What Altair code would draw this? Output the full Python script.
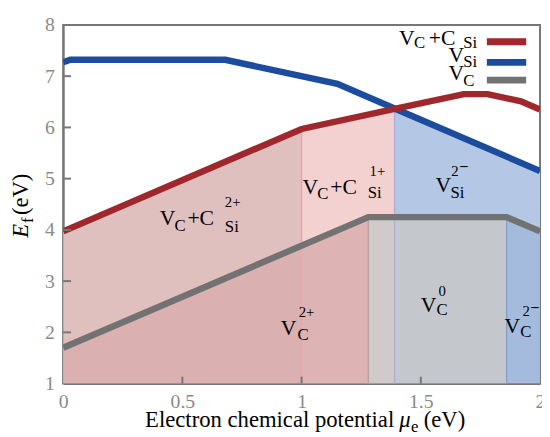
import altair as alt
import pandas as pd

# ---------------- data ----------------
# formation-energy lines (piecewise linear), x = electron chemical potential (eV)
red_x = [0.0, 1.0, 1.39, 1.68, 1.78, 1.92, 2.0]          # V_C + C_Si
red_y = [3.97, 5.97, 6.36, 6.65, 6.65, 6.51, 6.35]
blue_x = [0.0, 0.03, 0.68, 1.15, 1.39, 2.0]              # V_Si
blue_y = [7.27, 7.32, 7.32, 6.85, 6.37, 5.15]
gray_x = [0.0, 1.28, 1.86, 2.0]                          # V_C
gray_y = [1.70, 4.25, 4.25, 3.97]

# region boundaries (charge-state transition levels)
reg_name = ["A", "B", "C", "D", "E", "F"]
reg_line = ["red", "red", "blue", "gray", "gray", "gray"]
reg_lo = [0.0, 1.0, 1.39, 0.0, 1.28, 1.86]
reg_hi = [1.0, 1.39, 2.0, 1.28, 1.86, 2.0]

x_ticks = [0, 0.5, 1, 1.5, 2]
y_ticks = [1, 2, 3, 4, 5, 6, 7, 8]

# ---------------- styles ----------------
FONT = "Liberation Serif"
line_color = {"red": "#a0282c", "blue": "#1b4c9e", "gray": "#727272"}
reg_fill = {"A": "#e0bfbf", "B": "#f3d1d1", "C": "#b4c7e4",
            "D": "#d9adad", "E": "#c8c8c8", "F": "#7896c8"}
reg_op = {"A": 1.0, "B": 1.0, "C": 1.0, "D": 0.84, "E": 0.81, "F": 0.25}

lines = {"red": (red_x, red_y), "blue": (blue_x, blue_y), "gray": (gray_x, gray_y)}

line_rows = []
for k in ["blue", "red", "gray"]:
    xs_, ys_ = lines[k]
    for i, (a, b) in enumerate(zip(xs_, ys_)):
        line_rows.append({"s": k, "x": a, "y": b, "o": i, "c": line_color[k]})
line_df = pd.DataFrame(line_rows)

area_rows = []
for n, ln, lo, hi in zip(reg_name, reg_line, reg_lo, reg_hi):
    xs_, ys_ = lines[ln]
    for a, b in zip(xs_, ys_):
        if lo - 1e-9 <= a <= hi + 1e-9:
            area_rows.append({"r": n, "x": a, "y": b, "y0": 1.0, "c": reg_fill[n], "op": reg_op[n]})
area_df = pd.DataFrame(area_rows)

W, H = 484, 364
xs = alt.Scale(domain=[0, 2], nice=False, zero=False)
ys = alt.Scale(domain=[1, 8], nice=False, zero=False)

X = alt.X("x:Q", scale=xs, axis=alt.Axis(values=x_ticks, format="~g", title=None,
                                         labelFont=FONT, labelFlush=False))
Y = alt.Y("y:Q", scale=ys, axis=alt.Axis(values=y_ticks, format="d", title=None,
                                         labelFont=FONT, labelFlush=False), stack=None)


def areas(names):
    d = area_df[area_df["r"].isin(names)]
    return alt.Chart(d).mark_area(clip=True).encode(
        x=X, y=Y, y2="y0:Q", detail="r:N",
        color=alt.Color("c:N", scale=None),
        opacity=alt.Opacity("op:Q", scale=None),
    )


base_areas = areas(["A", "B", "C"])
over_areas = areas(["D", "E", "F"])

# faint region boundaries
bnd_df = pd.DataFrame({
    "x": [1.0, 1.39, 1.28, 1.86],
    "y": [5.97, 6.37, 4.25, 4.25],
    "y0": [1.0, 1.0, 1.0, 1.0],
    "c": ["#e8a7aa", "#a9b3d8", "#b8a2a2", "#8aa0cc"],
})
bounds = alt.Chart(bnd_df).mark_rule(strokeWidth=1.5).encode(
    x=X, y=Y, y2="y0:Q", color=alt.Color("c:N", scale=None)
)

line_layer = alt.Chart(line_df).mark_line(strokeWidth=6.5, clip=True).encode(
    x=X, y=Y, order="o:Q", detail="s:N", color=alt.Color("c:N", scale=None)
)

# ---------------- labels (composed super/subscripts) ----------------
lab = [
    # V_C + C_Si^2+
    (0.405, 4.10, "V", "b"), (0.467, 3.98, "C", "s"), (0.521, 4.10, "+C", "b"),
    (0.678, 3.96, "Si", "s"), (0.678, 4.44, "2+", "p"),
    # V_C + C_Si^1+
    (1.004, 4.71, "V", "b"), (1.066, 4.61, "C", "s"), (1.12, 4.71, "+C", "b"),
    (1.277, 4.63, "Si", "s"), (1.285, 5.06, "1+", "p"),
    # V_Si^2-
    (1.562, 4.73, "V", "b"), (1.624, 4.63, "Si", "s"), (1.628, 5.06, "2", "p"),
    (1.665, 5.16, "\u2013", "m"),
    # V_C^2+
    (0.913, 1.94, "V", "b"), (0.983, 1.85, "C", "s"), (0.988, 2.29, "2+", "p"),
    # V_C^0
    (1.50, 2.40, "V", "b"), (1.566, 2.33, "C", "s"), (1.574, 2.71, "0", "p"),
    # V_C^2-
    (1.851, 1.98, "V", "b"), (1.917, 1.90, "C", "s"), (1.926, 2.31, "2", "p"),
    (1.963, 2.41, "\u2013", "m"),
    # legend texts
    (1.409, 7.615, "V", "b"), (1.471, 7.55, "C", "s"), (1.533, 7.615, "+C", "b"),
    (1.678, 7.55, "Si", "s"),
    (1.616, 7.27, "V", "b"), (1.678, 7.17, "Si", "s"),
    (1.616, 6.92, "V", "b"), (1.678, 6.81, "C", "s"),
]
lab_df = pd.DataFrame(lab, columns=["x", "y", "t", "role"])
role_size = {"b": 22, "s": 17, "p": 15, "m": 15}


def text_layer(role, bold=False):
    d = lab_df[lab_df["role"] == role]
    return alt.Chart(d).mark_text(
        align="left", baseline="alphabetic", font=FONT, fontSize=role_size[role],
        color="black", fontWeight="bold" if bold else "normal",
    ).encode(x=X, y=Y, text="t:N")


texts = [text_layer("b"), text_layer("s"), text_layer("p"), text_layer("m", True)]

# legend swatches
leg_df = pd.DataFrame({
    "x": [1.777] * 3, "x2": [1.942] * 3, "y": [7.673, 7.269, 6.923],
    "c": [line_color["red"], line_color["blue"], line_color["gray"]],
})
legend = alt.Chart(leg_df).mark_rule(strokeWidth=7).encode(
    x=X, x2="x2:Q", y=Y, color=alt.Color("c:N", scale=None)
)

# inward ticks
xt = alt.Chart(pd.DataFrame({"x": x_ticks[1:-1]})).mark_rule(color="#777", strokeWidth=2).encode(
    x=X, y=alt.value(H), y2=alt.value(H - 7))
yt = alt.Chart(pd.DataFrame({"y": y_ticks[1:-1]})).mark_rule(color="#777", strokeWidth=2).encode(
    y=Y, x=alt.value(0), x2=alt.value(8))


def ptext(txt, px, py, size, style="normal", angle=0, align="left"):
    return alt.Chart(pd.DataFrame({"a": [0]})).mark_text(
        align=align, baseline="alphabetic", font=FONT, fontSize=size, fontStyle=style,
        color="black", angle=angle,
    ).encode(x=alt.value(px), y=alt.value(py), text=alt.value(txt))


titles = [
    ptext("Electron chemical potential", 336, 408, 23, align="right"),
    ptext("\u03bc", 341, 408, 23, style="italic"),
    ptext("e", 353, 413, 17),
    ptext("(eV)", 366, 408, 23),
    ptext("E", -36, 216, 23, style="italic", angle=270),
    ptext("f", -31, 201, 17, angle=270),
    ptext("(eV)", -36, 193, 23, angle=270),
]

chart = alt.layer(
    base_areas, over_areas, bounds, line_layer, *texts, legend, xt, yt, *titles
).properties(
    width=W, height=H,
    autosize=alt.AutoSizeParams(type="none"),
    padding={"left": 56, "top": 14, "right": 2, "bottom": 51},
).configure(
    font=FONT
).configure_view(
    stroke="#777", strokeWidth=2
).configure_axis(
    grid=False, ticks=False, domainColor="#777", domainWidth=2,
    labelColor="#8a8a8a", labelFont=FONT, labelFontSize=20,
).configure_axisX(labelPadding=8).configure_axisY(labelPadding=9)

chart.save("out.html", embed_options={"renderer": "svg", "actions": False})
